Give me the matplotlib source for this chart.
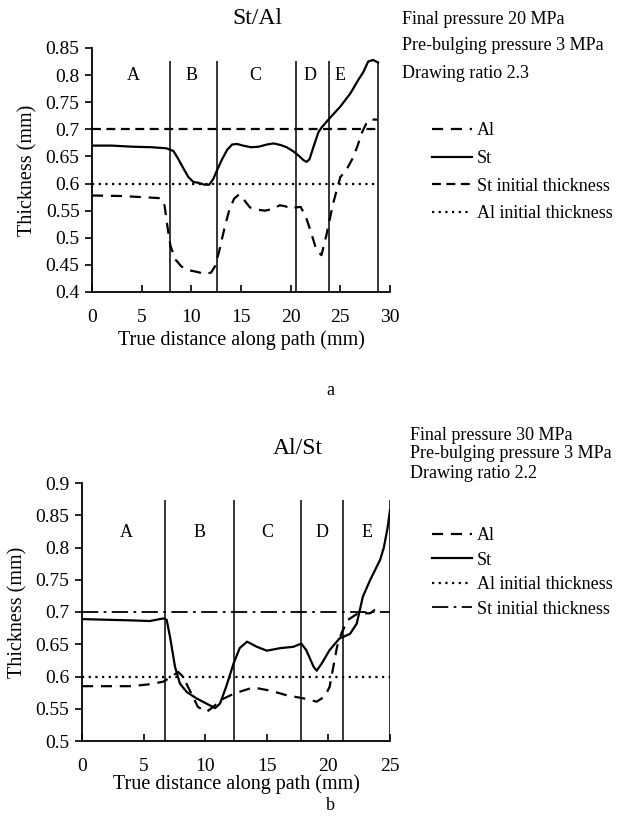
import matplotlib
matplotlib.use("Agg")
import matplotlib.pyplot as plt
from matplotlib.lines import Line2D

plt.rcParams['font.family'] = ['Liberation Serif', 'DejaVu Serif']

# ---------------- data: (a) St/Al ----------------
a_st_x = [0, 2, 4, 6, 7.5, 8.2, 8.7, 9.2, 9.7, 10.2, 10.8, 11.3, 11.8, 12.2, 12.6, 13.1, 13.6,
          14.1, 14.6, 15.2, 16.0, 16.8, 17.6, 18.3, 19.0, 19.6, 20.3, 20.9, 21.3, 21.6, 21.9,
          22.3, 22.8, 23.1, 23.9, 25.0, 26.0, 26.8, 27.3, 27.8, 28.3, 28.8]
a_st_y = [0.670, 0.670, 0.668, 0.667, 0.665, 0.660, 0.645, 0.628, 0.612, 0.603, 0.601, 0.598,
          0.598, 0.608, 0.625, 0.645, 0.662, 0.672, 0.673, 0.670, 0.667, 0.668, 0.672, 0.674,
          0.671, 0.667, 0.659, 0.650, 0.643, 0.640, 0.645, 0.668, 0.695, 0.703, 0.720, 0.742,
          0.766, 0.791, 0.805, 0.825, 0.828, 0.823]
a_al_x = [0, 3, 6, 6.9, 7.3, 7.6, 7.9, 8.4, 9.0, 9.8, 10.6, 11.4, 12.0, 12.4, 12.8, 13.3, 13.8,
          14.3, 14.8, 15.3, 15.9, 16.6, 17.4, 18.2, 18.9, 19.5, 20.0, 20.5, 21.0, 21.5, 22.0,
          22.6, 23.1, 23.6, 24.0, 24.3, 25.0, 25.6, 26.2, 26.7, 27.2, 27.7, 28.0, 28.7]
a_al_y = [0.578, 0.577, 0.574, 0.573, 0.560, 0.520, 0.485, 0.460, 0.447, 0.440, 0.437, 0.433,
          0.436, 0.448, 0.475, 0.515, 0.550, 0.572, 0.580, 0.570, 0.556, 0.552, 0.550, 0.553,
          0.560, 0.558, 0.553, 0.556, 0.557, 0.540, 0.513, 0.477, 0.468, 0.505, 0.540, 0.565,
          0.612, 0.625, 0.645, 0.668, 0.695, 0.714, 0.718, 0.718]
a_st_init = 0.7
a_al_init = 0.6
a_bounds = [7.85, 12.55, 20.5, 23.9, 28.8]
a_zone_x = [4.2, 10.0, 16.4, 21.9, 25.0]
zones = ['A', 'B', 'C', 'D', 'E']
a_notes = ['Final pressure 20 MPa', 'Pre-bulging pressure 3 MPa', 'Drawing ratio 2.3']

# ---------------- data: (b) Al/St ----------------
b_st_x = [0, 2, 4, 5.5, 6.6, 6.87, 7.14, 7.55, 7.95, 8.5, 9.3, 10.1, 10.8, 11.2, 11.7, 12.3,
          12.8, 13.4, 14.2, 15.0, 16.1, 17.15, 17.8, 18.2, 18.8, 19.05, 19.45, 20.1, 20.9,
          21.75, 22.3, 22.8, 23.4, 24.2, 24.5, 24.8, 25.0]
b_st_y = [0.689, 0.688, 0.687, 0.686, 0.690, 0.688, 0.662, 0.615, 0.589, 0.576, 0.566, 0.558,
          0.551, 0.558, 0.584, 0.620, 0.644, 0.654, 0.646, 0.640, 0.644, 0.646, 0.651, 0.641,
          0.615, 0.609, 0.620, 0.641, 0.659, 0.666, 0.682, 0.724, 0.750, 0.781, 0.800, 0.830,
          0.858]
b_al_x = [0, 2, 4, 5.5, 6.6, 7.28, 7.8, 8.2, 8.6, 9.0, 9.4, 10.1, 10.66, 11.3, 12.4, 13.9,
          15.3, 16.6, 18.0, 19.05, 19.7, 20.1, 20.4, 20.7, 21.1, 21.6, 22.4, 23.4, 24.05]
b_al_y = [0.585, 0.585, 0.585, 0.588, 0.592, 0.600, 0.607, 0.600, 0.584, 0.569, 0.553, 0.545,
          0.553, 0.564, 0.574, 0.583, 0.578, 0.571, 0.566, 0.561, 0.569, 0.584, 0.615, 0.646,
          0.669, 0.688, 0.698, 0.698, 0.708]
b_st_init = 0.7
b_al_init = 0.6
b_bounds = [6.76, 12.3, 17.75, 21.2, 25.0]
b_zone_x = [3.6, 9.5, 15.0, 19.5, 23.1]
b_notes = ['Final pressure 30 MPa', 'Pre-bulging pressure 3 MPa', 'Drawing ratio 2.2']

W, H = 634, 816
fig = plt.figure(figsize=(W / 100, H / 100), dpi=100)

TICK_FS = 14
LAB_FS = 14.5
NOTE_FS = 13
LINE_W = 1.6
AL_DASH = (0, (5, 3.5))
ST_INIT_DASH = (0, (4, 2.5))
DOT = (0, (1, 2))
DASHDOT = (0, (9, 3, 1.5, 3))


def px_rect(l, t, r, b):
    return [l / W, 1 - b / H, (r - l) / W, (b - t) / H]


def style_axes(ax):
    for s in ['top', 'right']:
        ax.spines[s].set_visible(False)
    for s in ['left', 'bottom']:
        ax.spines[s].set_linewidth(1.3)
    ax.tick_params(axis='x', direction='in', length=5, width=1.2, labelsize=TICK_FS, pad=12)
    ax.tick_params(axis='y', direction='out', length=5, width=1.2, labelsize=TICK_FS, pad=4)


# ---------- (a) ----------
ax1 = fig.add_axes(px_rect(92, 48, 390, 292))
ax1.plot(a_al_x, a_al_y, color='black', lw=LINE_W, linestyle=AL_DASH)
ax1.plot(a_st_x, a_st_y, color='black', lw=LINE_W)
ax1.hlines(a_st_init, 0, 29, color='black', lw=LINE_W, linestyle=ST_INIT_DASH)
ax1.hlines(a_al_init, 0, 28.6, color='black', lw=LINE_W, linestyle=DOT)
ax1.vlines(a_bounds, 0.4, 0.826, color='black', lw=1.1)
for zx, z in zip(a_zone_x, zones):
    ax1.text(zx, 0.80, z, ha='center', va='center', fontsize=13)
ax1.set_xlim(0, 30)
ax1.set_ylim(0.4, 0.85)
ax1.set_xticks([0, 5, 10, 15, 20, 25, 30])
ax1.set_yticks([0.4, 0.45, 0.5, 0.55, 0.6, 0.65, 0.7, 0.75, 0.8, 0.85])
ax1.set_yticklabels(['0.4', '0.45', '0.5', '0.55', '0.6', '0.65', '0.7', '0.75', '0.8', '0.85'])
style_axes(ax1)
ax1.set_xlabel('True distance along path (mm)', fontsize=LAB_FS, labelpad=3)
ax1.set_ylabel('Thickness (mm)', fontsize=LAB_FS, labelpad=6)
fig.text(257 / W, 1 - 19 / H, 'St/Al', ha='center', va='center', fontsize=17)
for i, t in enumerate(a_notes):
    fig.text(402 / W, 1 - (19 + 27 * i) / H, t, ha='left', va='center', fontsize=NOTE_FS)
fig.text(330 / W, 1 - 390 / H, 'a', ha='center', va='center', fontsize=13)

h1 = [Line2D([], [], color='black', lw=LINE_W, linestyle=AL_DASH),
      Line2D([], [], color='black', lw=LINE_W),
      Line2D([], [], color='black', lw=LINE_W, linestyle=ST_INIT_DASH),
      Line2D([], [], color='black', lw=LINE_W, linestyle=DOT)]
fig.legend(h1, ['Al', 'St', 'St initial thickness', 'Al initial thickness'],
           loc='upper left', bbox_to_anchor=(432 / W, 1 - 122 / H), frameon=False,
           fontsize=NOTE_FS, handlelength=2.2, handletextpad=0.3, labelspacing=0.6,
           borderaxespad=0, borderpad=0)

# ---------- (b) ----------
ax2 = fig.add_axes(px_rect(82, 483, 390, 741))
ax2.plot(b_al_x, b_al_y, color='black', lw=LINE_W, linestyle=AL_DASH)
ax2.plot(b_st_x, b_st_y, color='black', lw=LINE_W)
ax2.hlines(b_al_init, 0, 25, color='black', lw=LINE_W, linestyle=DOT)
ax2.hlines(b_st_init, 0, 25, color='black', lw=1.3, linestyle=DASHDOT)
ax2.vlines(b_bounds, 0.5, 0.873, color='black', lw=1.1)
for zx, z in zip(b_zone_x, zones):
    ax2.text(zx, 0.824, z, ha='center', va='center', fontsize=13)
ax2.set_xlim(0, 25)
ax2.set_ylim(0.5, 0.9)
ax2.set_xticks([0, 5, 10, 15, 20, 25])
ax2.set_yticks([0.5, 0.55, 0.6, 0.65, 0.7, 0.75, 0.8, 0.85, 0.9])
ax2.set_yticklabels(['0.5', '0.55', '0.6', '0.65', '0.7', '0.75', '0.8', '0.85', '0.9'])
style_axes(ax2)
ax2.set_xlabel('True distance along path (mm)', fontsize=LAB_FS, labelpad=0)
ax2.set_ylabel('Thickness (mm)', fontsize=LAB_FS, labelpad=6)
fig.text(298 / W, 1 - 448 / H, 'Al/St', ha='center', va='center', fontsize=17)
for i, t in enumerate(b_notes):
    fig.text(410 / W, 1 - (435 + 19 * i) / H, t, ha='left', va='center', fontsize=NOTE_FS)
fig.text(330 / W, 1 - 806 / H, 'b', ha='center', va='center', fontsize=13)

h2 = [Line2D([], [], color='black', lw=LINE_W, linestyle=AL_DASH),
      Line2D([], [], color='black', lw=LINE_W),
      Line2D([], [], color='black', lw=LINE_W, linestyle=DOT),
      Line2D([], [], color='black', lw=1.3, linestyle=DASHDOT)]
fig.legend(h2, ['Al', 'St', 'Al initial thickness', 'St initial thickness'],
           loc='upper left', bbox_to_anchor=(432 / W, 1 - 527 / H), frameon=False,
           fontsize=NOTE_FS, handlelength=2.2, handletextpad=0.3, labelspacing=0.42,
           borderaxespad=0, borderpad=0)

fig.savefig('out.png', dpi=100)
